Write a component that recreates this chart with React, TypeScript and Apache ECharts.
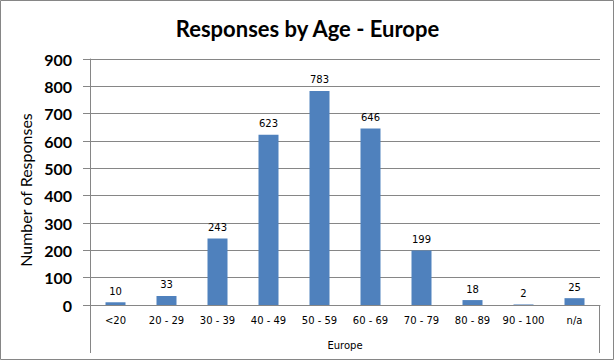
import React, { useEffect, useRef } from "react";
import * as echarts from "echarts";

const categories = ["<20", "20 - 29", "30 - 39", "40 - 49", "50 - 59", "60 - 69", "70 - 79", "80 - 89", "90 - 100", "n/a"];
const responses = [10, 33, 243, 623, 783, 646, 199, 18, 2, 25];
const groupName = "Europe";
const titleText = "Responses by Age - Europe";
const yAxisName = "Number of Responses";

export default function App() {
  const ref = useRef<HTMLDivElement>(null);
  useEffect(() => {
    document.body.style.margin = "0";
    const chart = echarts.init(ref.current!, null, { renderer: "svg" });
    const gray = "#868686";
    chart.setOption({
      animation: false,
      backgroundColor: "#fff",
      title: {
        text: titleText,
        left: "center",
        top: 12,
        textStyle: { fontFamily: "Lato", fontWeight: "bold", fontSize: 22, color: "#000" },
      },
      grid: { left: 90, right: 15, top: 59, bottom: 56, containLabel: false },
      xAxis: {
        type: "category",
        data: categories,
        name: groupName,
        nameLocation: "middle",
        nameGap: 35,
        nameTextStyle: { fontFamily: "DejaVu Sans", fontSize: 10, color: "#000" },
        axisLine: { show: true, lineStyle: { color: gray, width: 1 } },
        axisTick: { show: false },
        axisLabel: { interval: 0, margin: 10, fontFamily: "DejaVu Sans", fontSize: 10, color: "#000" },
      },
      yAxis: {
        type: "value",
        min: 0,
        max: 900,
        interval: 100,
        name: yAxisName,
        nameLocation: "middle",
        nameGap: 56,
        nameTextStyle: { fontFamily: "Lato", fontSize: 16, color: "#000", padding: [0, 16, 0, 0] },
        axisLine: { show: true, lineStyle: { color: gray, width: 1 } },
        axisTick: { show: true, length: 7, lineStyle: { color: gray } },
        axisLabel: { margin: 18, fontFamily: "Lato", fontWeight: "bold", fontSize: 16, color: "#000" },
        splitLine: { show: true, lineStyle: { color: gray, width: 1 } },
      },
      series: [
        {
          type: "bar",
          data: responses,
          barWidth: 20,
          itemStyle: { color: "#4F81BD" },
          label: {
            show: true,
            position: "top",
            distance: 6,
            fontFamily: "DejaVu Sans",
            fontSize: 10,
            color: "#000",
          },
        },
      ],
      graphic: [
        { type: "rect", shape: { x: 0.5, y: 0.5, width: 613, height: 359 }, style: { fill: "none", stroke: gray, lineWidth: 1 } },
        { type: "line", shape: { x1: 90.5, y1: 305, x2: 90.5, y2: 353 }, style: { stroke: gray, lineWidth: 1 } },
        { type: "line", shape: { x1: 599.5, y1: 305, x2: 599.5, y2: 353 }, style: { stroke: gray, lineWidth: 1 } },
      ],
    });
    return () => chart.dispose();
  }, []);
  return <div ref={ref} style={{ width: 615, height: 361 }} />;
}
